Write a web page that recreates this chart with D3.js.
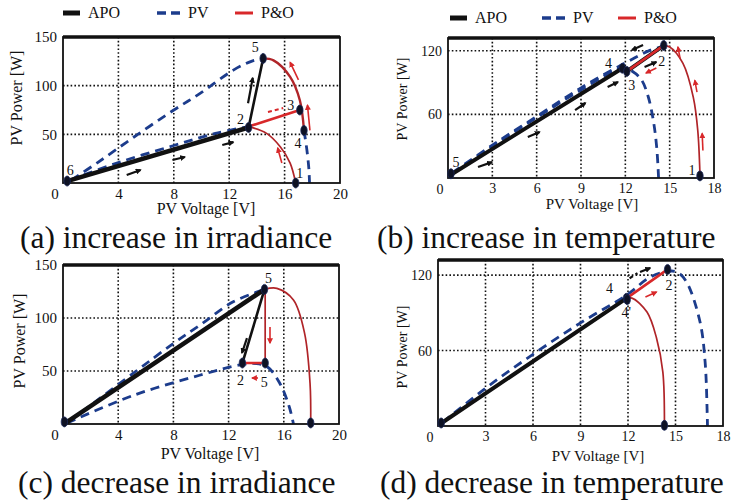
<!DOCTYPE html>
<html>
<head>
<meta charset="utf-8">
<script src="https://cdn.jsdelivr.net/npm/d3@7"></script>
<style>
  body { margin: 0; background: #fff; }
  svg { display: block; }
  text { font-family: "Liberation Serif", "Times New Roman", serif; fill: #111; }
</style>
</head>
<body>
<svg id="fig" width="731" height="502"></svg>
<script>
const legendLabels = ["APO", "PV", "P&O"];
const captions = ["(a) increase in irradiance", "(b) increase in temperature",
                  "(c) decrease in irradiance", "(d) decrease in temperature"];
const xTicksIrr = [4, 8, 12, 16, 20], yTicksIrr = [50, 100, 150];
const xTicksTemp = [3, 6, 9, 12, 15, 18], yTicksTemp = [60, 120];

// (a) increase in irradiance  [V, W]
const aPvHigh = [[0.6, 3], [2.5, 21], [5.1, 47], [8, 75], [9.9, 92], [12.3, 116], [13.6, 125], [14.45, 128]];
const aPvHighTail = [[17.4, 54], [17.6, 35], [17.75, 15], [17.8, 0]];
const aPvLow = [[0.5, 3], [4, 21], [8, 38.5], [11, 51], [13.4, 58]];
const aPoLow = [[13.4, 58], [14.7, 51], [15.7, 37], [16.4, 20.5], [16.8, 0]];
const aPoHigh = [[14.45, 128], [15.2, 126], [16.4, 109], [17.1, 85], [17.4, 54]];
const aApo = [[0.3, 2], [13.4, 57]];
const aApoJump = [[13.4, 57], [14.45, 128]];
const aPoJump = [[13.4, 58], [17.1, 75]];
const aPoTry = [[14.8, 73], [15.9, 77]];
const aMarks = [[0.3, 2], [13.4, 57], [14.45, 128], [17.1, 75], [17.4, 54], [16.8, 0]];
const aMarkLabels = ["6", "2", "5", "3", "4", "1"];
const aArrowsApo = [[4.6, 8.2, 5.6, 13.4], [7.9, 23.6, 8.8, 26.7], [11.5, 39, 12.3, 42], [13.36, 82, 13.7, 108]];
const aArrowsPo = [[17.0, 106, 16.4, 124], [17.83, 54, 17.65, 80], [15.8, 20.5, 15.5, 36]];

// (b) increase in temperature
const bPvLow = [[0.3, 5], [3, 31], [6, 58], [9, 85], [11.8, 107], [13.7, 120.6], [14.6, 124]];
const bPvHigh = [[0.3, 4], [3, 30], [6, 57], [9, 83], [11.8, 103.5], [12.54, 100], [13.1, 92.4],
                 [13.55, 76.6], [13.89, 54.6], [14.12, 29.4], [14.25, 0]];
const bPoRight = [[14.6, 124.5], [15, 123.5], [15.9, 108], [16.6, 76], [16.9, 45], [17.05, 3]];
const bApo = [[0.3, 4], [11.8, 103.5]];
const bPoThick = [[12.1, 100.5], [14.6, 125]];
const bMarks = [[0.2, 4], [11.8, 103.5], [12.1, 100.5], [14.6, 125], [17.05, 2]];
const bMarkLabels = ["5", "4", "3", "2", "1"];
const bArrowsApo = [[2.03, 10.3, 2.98, 15], [5.4, 38.6, 6.2, 43.3], [8.6, 64, 9.3, 70.7],
                    [10.8, 85.8, 11.5, 90.5], [13.3, 104.6, 14.1, 109.3], [13.2, 125.4, 12.45, 120.7]];
const bArrowsPo = [[14.1, 103.7, 13.4, 99], [15.7, 113, 15.56, 123.5], [16.85, 81, 16.7, 92], [17.25, 26, 17.2, 42]];

// (c) decrease in irradiance
const cPvHigh = [[0.5, 3], [5, 47], [8, 76], [10, 94], [12.3, 115], [14.6, 127]];
const cPvLow = [[0.3, 1], [5.1, 27], [9.9, 46], [12.8, 55.7], [14, 57], [14.8, 54], [15.7, 38.7], [16.4, 16], [16.7, 0]];
const cPoRight = [[14.6, 127], [15.5, 128], [16.7, 117], [17.5, 86], [17.9, 38.7], [17.95, 1]];
const cPoDrop = [[14.65, 127], [14.65, 57.5]];
const cPoStep = [[14.65, 57.5], [13.1, 57.5]];
const cApo = [[0.3, 2], [14.6, 127]];
const cApoDrop = [[14.6, 127], [13.0, 57.5]];
const cMarks = [[0.1, 2], [14.6, 127], [13.0, 57.5], [14.65, 57.5], [17.95, 1]];
const cMarkLabels = ["", "5", "2", "5", ""];
const cArrowsApo = [[13.33, 81, 12.97, 67]];
const cArrowsPo = [[15.0, 91.5, 15.0, 76.4], [14.13, 43.4, 13.7, 43.4]];

// (d) decrease in temperature
const dPvLow = [[0.3, 3], [3, 30], [6, 57], [9, 82], [11.9, 104], [13.4, 118.4], [14.5, 123], [15.1, 122.4],
                [15.7, 114.5], [16.55, 82.7], [16.87, 50.9], [17.0, 11], [17.02, 0]];
const dPoLeft = [[11.9, 101], [12.25, 101.7], [13.2, 90.6], [13.8, 70], [14.2, 43], [14.3, 1]];
const dApo = [[0.3, 3], [11.9, 101.5]];
const dApoDash = [[12.1, 117.5], [12.6, 121.5]];
const dPoThick = [[11.9, 101.5], [14.5, 124.5]];
const dMarks = [[0.2, 2.4], [11.9, 101.5], [14.5, 124.5], [14.3, 0.5], [11.95, 100.5]];
const dMarkLabels = ["", "4", "2", "", "4'"];
const dArrowsApo = [[12.76, 122.4, 13.4, 125.6]];
const dArrowsPo = [[13.1, 102.5, 13.8, 106.5]];

const BLACK = "#111", BLUE = "#1c3c8c", RED = "#d8282a", DARKRED = "#b02428";

const styles = {
  pv:      { stroke: BLUE, width: 2.8, dash: "9,6" },
  po:      { stroke: DARKRED, width: 1.7 },
  poHigh:  { stroke: DARKRED, width: 2.4 },
  poThick: { stroke: RED, width: 2.6 },
  poDash:  { stroke: RED, width: 2, dash: "4,3" },
  apo:     { stroke: BLACK, width: 4.5 },
  apoMid:  { stroke: BLACK, width: 4 },
  apoThin: { stroke: BLACK, width: 2.6 },
  apoDash: { stroke: BLACK, width: 2.2, dash: "4,3" }
};

const panels = [
  { box: [63, 340, 37, 183], xMax: 20, yMax: 150, xTicks: xTicksIrr, yTicks: yTicksIrr, tickFs: 15,
    xLabel: [206, 214], xFs: 16, yLabel: [22, 98], yFs: 16, caption: [20, 248], legend: { y: 13, x: [63, 157, 235] },
    series: [[aPvHigh, "pv"], [aPvHighTail, "pv"], [aPvLow, "pv"], [aPoLow, "po"], [aPoHigh, "poHigh"],
             [aApo, "apo"], [aApoJump, "apoThin"], [aPoJump, "poThick"], [aPoTry, "poDash"]],
    arrows: [[aArrowsApo, "k"], [aArrowsPo, "r"]],
    marks: aMarks, markLabels: aMarkLabels,
    labelOff: [[3, -6], [-8, -4], [-8, -6], [-9, 0], [-6, 18], [4, -5]] },
  { box: [448, 714, 38, 178], xMax: 18, yMax: 132, xTicks: xTicksTemp, yTicks: yTicksTemp, tickFs: 14,
    xLabel: [592, 209], xFs: 15, yLabel: [407, 99], yFs: 14, caption: [377, 248], legend: { y: 18, x: [450, 542, 618] },
    series: [[bPvLow, "pv"], [bPvHigh, "pv"], [bPoRight, "po"], [bApo, "apoMid"], [bPoThick, "apoMid"], [bPoThick, "poThick"]],
    arrows: [[bArrowsApo, "k"], [bArrowsPo, "r"]],
    marks: bMarks, markLabels: bMarkLabels,
    labelOff: [[5, -7], [-14, 0], [5, 19], [-2, 21], [-8, -1]] },
  { box: [63, 339, 265, 424], xMax: 20, yMax: 150, xTicks: xTicksIrr, yTicks: yTicksIrr, tickFs: 15,
    xLabel: [210, 459], xFs: 16, yLabel: [25, 341], yFs: 16, caption: [18, 493], legend: null,
    series: [[cPvHigh, "pv"], [cPvLow, "pv"], [cPoRight, "po"], [cPoDrop, "po"], [cApo, "apo"],
             [cApoDrop, "apoThin"], [cPoStep, "poThick"]],
    arrows: [[cArrowsApo, "k"], [cArrowsPo, "r"]],
    marks: cMarks, markLabels: cMarkLabels,
    labelOff: [[0, 0], [4, -6], [-2, 22], [-1, 24], [0, 0]] },
  { box: [438, 723, 260, 426], xMax: 18, yMax: 132, xTicks: xTicksTemp, yTicks: yTicksTemp, tickFs: 14,
    xLabel: [598, 461], xFs: 15, yLabel: [407, 347], yFs: 14, caption: [380, 493], legend: null,
    series: [[dPvLow, "pv"], [dPoLeft, "po"], [dApo, "apoMid"], [dApoDash, "apoDash"], [dPoThick, "poThick"]],
    arrows: [[dArrowsApo, "k"], [dArrowsPo, "r"]],
    marks: dMarks, markLabels: dMarkLabels,
    labelOff: [[0, 0], [-17, -5], [1.5, 21], [0, 0], [-1, 17]] }
];

const svg = d3.select("#fig");
const defs = svg.append("defs");
[["arrk", BLACK], ["arrr", RED]].forEach(([id, c]) => {
  defs.append("marker").attr("id", id)
    .attr("viewBox", "0 0 10 10").attr("refX", 8).attr("refY", 5)
    .attr("markerWidth", 6).attr("markerHeight", 6)
    .attr("markerUnits", "userSpaceOnUse").attr("orient", "auto")
    .append("path").attr("d", "M0,0L10,5L0,10z").attr("fill", c);
});

function drawPanel(cfg, i) {
  const [x0, x1, y0, y1] = cfg.box;
  const x = d3.scaleLinear().domain([0, cfg.xMax]).range([x0, x1]);
  const y = d3.scaleLinear().domain([0, cfg.yMax]).range([y1, y0]);
  const g = svg.append("g");

  // dotted grid
  g.selectAll(".gx").data(cfg.xTicks.filter(t => t < cfg.xMax)).join("line")
    .attr("x1", d => x(d)).attr("x2", d => x(d)).attr("y1", y0).attr("y2", y1)
    .attr("stroke", BLACK).attr("stroke-width", 1.6).attr("stroke-dasharray", "1.6,2.2");
  g.selectAll(".gy").data(cfg.yTicks.filter(t => t < cfg.yMax)).join("line")
    .attr("y1", d => y(d)).attr("y2", d => y(d)).attr("x1", x0).attr("x2", x1)
    .attr("stroke", BLACK).attr("stroke-width", 1.6).attr("stroke-dasharray", "1.6,2.2");

  // axes (labels only)
  const ax = g.append("g").attr("transform", `translate(0,${y1})`)
    .call(d3.axisBottom(x).tickValues(cfg.xTicks).tickSize(0).tickPadding(5));
  const ay = g.append("g").attr("transform", `translate(${x0},0)`)
    .call(d3.axisLeft(y).tickValues(cfg.yTicks).tickSize(0).tickPadding(6));
  [ax, ay].forEach(a => {
    a.select(".domain").remove();
    a.selectAll("text").style("font-family", '"Liberation Serif", "Times New Roman", serif')
      .style("font-size", cfg.tickFs + "px").attr("fill", BLACK);
  });
  g.append("text").attr("x", x0 - 8).attr("y", y1 + 16).attr("text-anchor", "middle")
    .style("font-size", cfg.tickFs + "px").text("0");

  // curves
  const line = d3.line().x(d => x(d[0])).y(d => y(d[1])).curve(d3.curveCatmullRom.alpha(0.5));
  cfg.series.forEach(([data, kind]) => {
    const s = styles[kind];
    g.append("path").attr("d", line(data)).attr("fill", "none")
      .attr("stroke", s.stroke).attr("stroke-width", s.width)
      .attr("stroke-dasharray", s.dash || null)
      .attr("stroke-linecap", s.dash ? "butt" : "round");
  });

  // direction arrows
  cfg.arrows.forEach(([list, c]) => {
    g.selectAll(null).data(list).join("line")
      .attr("x1", d => x(d[0])).attr("y1", d => y(d[1]))
      .attr("x2", d => x(d[2])).attr("y2", d => y(d[3]))
      .attr("stroke", c === "k" ? BLACK : RED).attr("stroke-width", c === "k" ? 2.2 : 1.6)
      .attr("marker-end", `url(#arr${c})`);
  });

  // frame
  g.append("rect").attr("x", x0).attr("y", y0).attr("width", x1 - x0).attr("height", y1 - y0)
    .attr("fill", "none").attr("stroke", BLACK).attr("stroke-width", 1.8);
  g.append("line").attr("x1", x0).attr("x2", x1).attr("y1", y0).attr("y2", y0)
    .attr("stroke", BLACK).attr("stroke-width", 3.5);

  // operating points
  g.selectAll(".mk").data(cfg.marks).join("ellipse")
    .attr("cx", d => x(d[0])).attr("cy", d => y(d[1])).attr("rx", 3.2).attr("ry", 5)
    .attr("fill", "#0e1224").attr("stroke", "#1c2a5c").attr("stroke-width", 0.8);
  g.selectAll(".ml").data(cfg.marks).join("text")
    .attr("x", (d, k) => x(d[0]) + cfg.labelOff[k][0])
    .attr("y", (d, k) => y(d[1]) + cfg.labelOff[k][1])
    .attr("text-anchor", "middle").style("font-size", "14px")
    .text((d, k) => cfg.markLabels[k]);

  // axis titles
  g.append("text").attr("x", cfg.xLabel[0]).attr("y", cfg.xLabel[1]).attr("text-anchor", "middle")
    .style("font-size", cfg.xFs + "px").text("PV Voltage [V]");
  g.append("text").attr("transform", `translate(${cfg.yLabel[0]},${cfg.yLabel[1]}) rotate(-90)`)
    .attr("text-anchor", "middle").style("font-size", cfg.yFs + "px").text("PV Power [W]");

  // caption
  g.append("text").attr("x", cfg.caption[0]).attr("y", cfg.caption[1])
    .style("font-size", "31.5px").text(captions[i]);

  // legend
  if (cfg.legend) {
    const L = cfg.legend;
    const kinds = [
      { stroke: BLACK, width: 5, dash: null, len: 17 },
      { stroke: BLUE, width: 3.5, dash: "9,5", len: 23 },
      { stroke: RED, width: 3, dash: null, len: 18 }
    ];
    legendLabels.forEach((lab, k) => {
      const s = kinds[k];
      g.append("line").attr("x1", L.x[k]).attr("x2", L.x[k] + s.len).attr("y1", L.y).attr("y2", L.y)
        .attr("stroke", s.stroke).attr("stroke-width", s.width).attr("stroke-dasharray", s.dash);
      g.append("text").attr("x", L.x[k] + s.len + 8).attr("y", L.y + 5)
        .style("font-size", "16px").text(lab);
    });
  }
}

panels.forEach(drawPanel);
</script>
</body>
</html>
